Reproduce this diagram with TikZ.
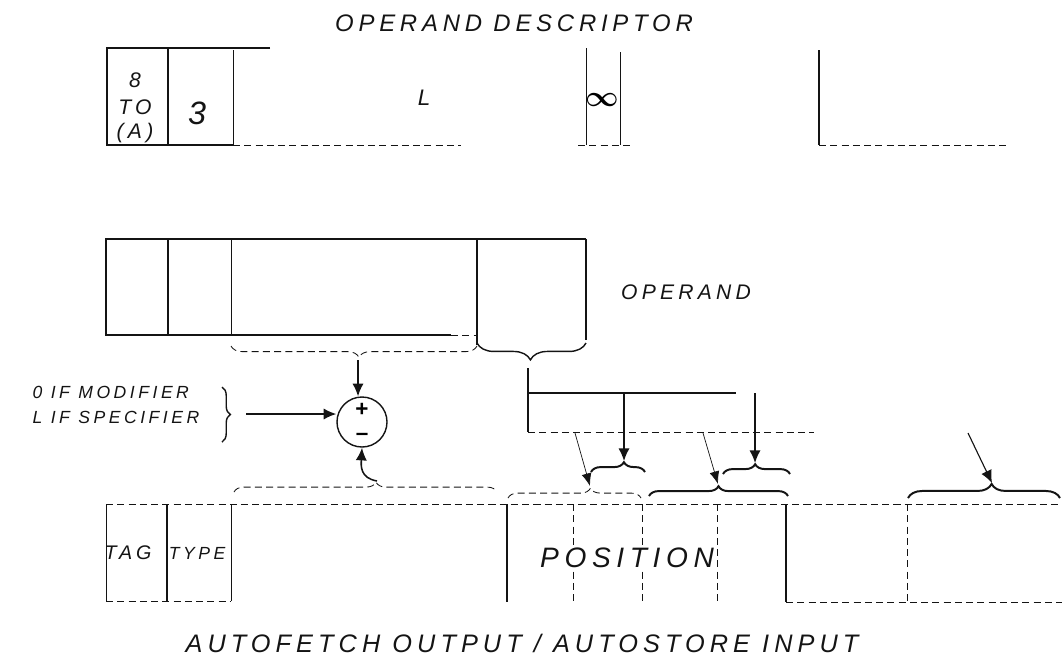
\documentclass[tikz,border=0pt]{standalone}
\usepackage{fontspec}
\usepackage{tikz}
\usetikzlibrary{
  arrows.meta,
  positioning,
  calc,
  decorations.pathreplacing
}
\newfontfamily\handfont{Liberation Sans}[LetterSpace=20.0]
\definecolor{ink}{RGB}{20,20,20}

\tikzset{
  pen/.style={draw=ink, line width=1pt},
  faint/.style={draw=ink, line width=0.6pt, dash pattern=on 5pt off 3pt},
  feed/.style={draw=ink, line width=1.1pt, -{Latex[length=9pt,width=8pt]}},
  thinfeed/.style={draw=ink, line width=0.5pt, -{Latex[length=9pt,width=7pt]}},
  curly/.style={decorate, decoration={brace, amplitude=7pt, aspect=#1}},
  curly/.default=0.5,
  hand/.style={font=\handfont\itshape\fontsize{#1}{#1}\selectfont, text=ink, inner sep=0pt}
}

\begin{document}
\begin{tikzpicture}[x=0.025cm, y=-0.025cm]
  \useasboundingbox (0,0) rectangle (1062,667);

  \node[hand=17pt] (desctitle) at (514,23) {OPERAND DESCRIPTOR};
  \draw[pen] (270,48) -- (107,48) -- (107,145) -- (233,145);
  \draw[pen] (168,48) -- (168,145);
  \draw[pen, line width=0.6pt] (233,50) -- (233,145);
  \draw[faint] (233,145) -- (461,145);
  \draw[pen, line width=0.7pt] (586,48) -- (586,145) (620,52) -- (620,145);
  \draw[faint] (578,145) -- (632,145);
  \draw[pen, line width=1.2pt] (819,50) -- (819,145);
  \draw[faint] (819,145) -- (1007,145);
  \node[hand=15pt, align=center] (tofield) at (135,108) {8\\[4pt]TO\\[2pt](A)};
  \node[hand=23pt] (lenfield) at (197,113) {3};
  \node[hand=16pt] (lfield) at (424,98) {L};
  \node[font=\boldmath\fontsize{22}{22}\selectfont, inner sep=0pt] (inffield) at (602,100) {$\infty$};

  \draw[pen] (586,239) -- (106,239) -- (106,335) -- (451,335);
  \draw[faint] (451,335) -- (477,335);
  \draw[pen] (168,239) -- (168,335);
  \draw[pen, line width=0.6pt] (231,239) -- (231,335);
  \draw[pen] (477,239) -- (477,345);
  \draw[pen] (586,239) -- (586,340);
  \node[hand=15pt] (operandlbl) at (686,292) {OPERAND};
  \draw[faint, curly=0.52, decoration={mirror, amplitude=8pt}] (231,346) -- (477,346);
  \draw[pen, curly=0.49, decoration={mirror, amplitude=12pt}] (477,343) -- (586,343);
  \coordinate (fieldtip) at (358,360);
  \coordinate (postip) at (528,368);

  \node[circle, pen, minimum size=1.25cm, inner sep=0pt, align=center,
        font=\handfont\bfseries\fontsize{16}{17}\selectfont] (adder) at (362,422) {+\\\textendash};
  \draw[feed] (fieldtip) -- (fieldtip |- adder.north);

  \node[hand=12.5pt, align=left] (seltext) at (116,405) {0 IF MODIFIER\\[5pt]L IF SPECIFIER};
  \draw[pen, curly=0.5, decoration={amplitude=6pt}] (222,387) -- (222,442);
  \coordinate (seltip) at (246,414);
  \draw[feed] (seltip) -- (seltip -| adder.west);

  \draw[pen, line width=1.4pt] (postip) -- (528,432);
  \draw[pen, line width=1.4pt] (528,393) -- (736,393);
  \draw[faint] (528,432) -- (814,432);
  \coordinate (tapA) at (624,393);
  \coordinate (tapB) at (755,393);

  \draw[pen, line width=1.4pt, curly=0.61, decoration={amplitude=7pt}] (591,472) -- (645,472);
  \draw[pen, line width=1.4pt, curly=0.48, decoration={amplitude=7pt}] (723,474) -- (790,474);
  \coordinate (smallA) at (624,461);
  \coordinate (smallB) at (755,463);
  \draw[feed] (tapA) -- (smallA);
  \draw[feed] (tapB) -- (smallB);

  \draw[faint, curly=0.62] (508,498) -- (641,498);
  \draw[pen, line width=1.4pt, curly=0.5] (649,496) -- (788,496);
  \draw[pen, line width=1.4pt, curly=0.55, decoration={amplitude=10pt}] (908,498) -- (1060,498);
  \draw[faint, curly=0.54] (234,492) -- (497,492);
  \coordinate (capA) at (590,486);
  \coordinate (capB) at (718,484);
  \coordinate (capC) at (992,483);
  \coordinate (outtip) at (377,481);
  \coordinate (fromA) at (575,433);
  \coordinate (fromB) at (703,433);
  \coordinate (fromC) at (968,433);
  \draw[thinfeed] (fromA) -- (capA);
  \draw[thinfeed] (fromB) -- (capB);
  \draw[feed, line width=0.8pt] (fromC) -- (capC);
  \draw[feed] (outtip) .. controls (360,478) and (361,466) .. (adder.south);

  \draw[faint] (106,504) -- (1062,504);
  \draw[pen, line width=0.6pt] (106,504) -- (106,601);
  \draw[pen] (167,504) -- (167,601);
  \draw[pen, line width=0.6pt] (231,504) -- (231,601);
  \draw[faint] (106,601) -- (231,601);
  \draw[pen, line width=1.5pt] (507,504) -- (507,602);
  \draw[faint] (573,504) -- (573,602) (642,504) -- (642,602) (717,504) -- (717,602);
  \draw[pen, line width=1.5pt] (786,504) -- (786,602);
  \draw[faint] (907,504) -- (907,602);
  \draw[faint] (786,602) -- (1062,602);
  \node[hand=14pt] (tagfield) at (128,553) {TAG};
  \node[hand=12.5pt] (typefield) at (197,553) {TYPE};
  \node[hand=20pt, fill=white, inner sep=2pt] (posfield) at (627,558) {POSITION};
  \node[hand=18pt] (caption) at (522,643) {AUTOFETCH OUTPUT / AUTOSTORE INPUT};
\end{tikzpicture}
\end{document}
